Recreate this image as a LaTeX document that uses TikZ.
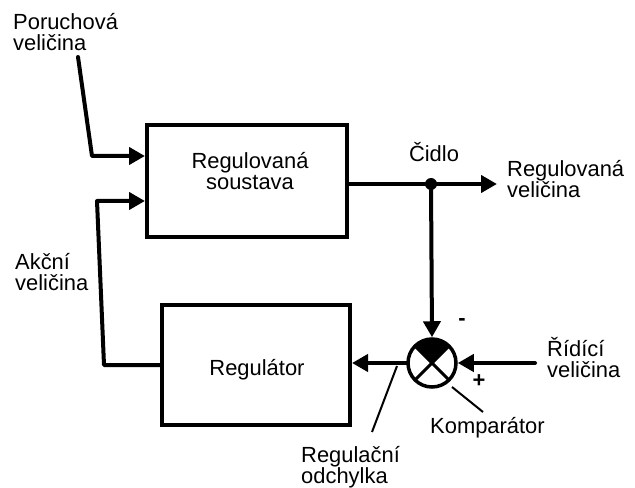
\documentclass[tikz,border=0pt]{standalone}
\usepackage{fontspec}
\setmainfont{Liberation Sans}
\usetikzlibrary{arrows.meta}
\begin{document}
\begin{tikzpicture}[x=1bp,y=-1bp,
  wire/.style={line width=4bp, line join=round, line cap=round},
  arr/.style={wire, -{Triangle[length=16bp,width=17bp]}},
  blk/.style={draw, line width=4bp, rectangle, inner sep=0pt},
  lbl/.style={font=\fontsize{22}{21}\selectfont, inner sep=0pt},
  lead/.style={line width=2bp},
  dotnode/.style={circle, fill, inner sep=0pt, minimum size=12bp}]
\useasboundingbox (0,0) rectangle (635,488);

% blocks
\node[blk, minimum width=200bp, minimum height=112bp] (plant) at (247,181) {};
\node[blk, minimum width=188bp, minimum height=120bp] (ctrl) at (256,365) {};
\node[lbl, align=center, anchor=north] (plantlbl) at (250,152.5) {Regulovaná\\soustava};
\node[lbl, anchor=base] (ctrllbl) at (257,375) {Regulátor};

% comparator
\node[circle, draw, line width=3.5bp, minimum size=48bp, inner sep=0pt] (cmp) at (432,363) {};
\begin{scope}[shift={(cmp.center)}, y=1bp]
  \fill (0,0) -- (135:24) arc[start angle=135, end angle=45, radius=24] -- cycle;
  \draw[line width=3bp] (135:23) -- (-45:23);
  \draw[line width=3bp] (45:23) -- (225:23);
\end{scope}

% sensor dot
\node[dotnode] (sensor) at (431,184) {};

% labels
\node[lbl, align=left, anchor=north west] (dist) at (13,13.5) {Poruchová\\veličina};
\node[lbl, anchor=base] (sens) at (434,162) {Čidlo};
\node[lbl, align=left, anchor=north west] (outlbl) at (507,160.5) {Regulovaná\\veličina};
\node[lbl, align=left, anchor=north west] (act) at (15,253.5) {Akční\\veličina};
\node[lbl, align=left, anchor=north west] (reflbl) at (547,337) {Řídící\\veličina};
\node[lbl, anchor=base west] (cmplbl) at (430,433) {Komparátor};
\node[lbl, align=left, anchor=north west] (errlbl) at (301,446.5) {Regulační\\odchylka};
\node[lbl] (minus) at (462,322) {\textbf{-}};
\node[lbl] (plus) at (479,381) {\textbf{+}};

% connectors
\coordinate (din) at (78,57);
\coordinate (dc) at (92,156);
\draw[arr] (din) -- (dc) -- (plant.west |- dc);

\coordinate (ac1) at (104,365);
\coordinate (ac2) at (97,201);
\draw[arr] (ctrl.west |- ac1) -- (ac1) -- (ac2) -- (plant.west |- ac2);

\draw[wire] (plant.east |- sensor) -- (sensor);
\coordinate (out) at (497,184);
\draw[arr] (sensor) -- (out);
\draw[arr] (sensor) -- (cmp.north);

\coordinate (ref) at (535,363);
\draw[arr] (ref) -- (cmp.east);
\draw[arr] (cmp.west) -- (ctrl.east |- cmp.west);

% leaders
\coordinate (e1) at (397,366);
\coordinate (e2) at (372,432);
\draw[lead] (e1) -- (e2);
\coordinate (k1) at (452,387);
\coordinate (k2) at (483,412);
\draw[lead] (k1) -- (k2);
\end{tikzpicture}
\end{document}
